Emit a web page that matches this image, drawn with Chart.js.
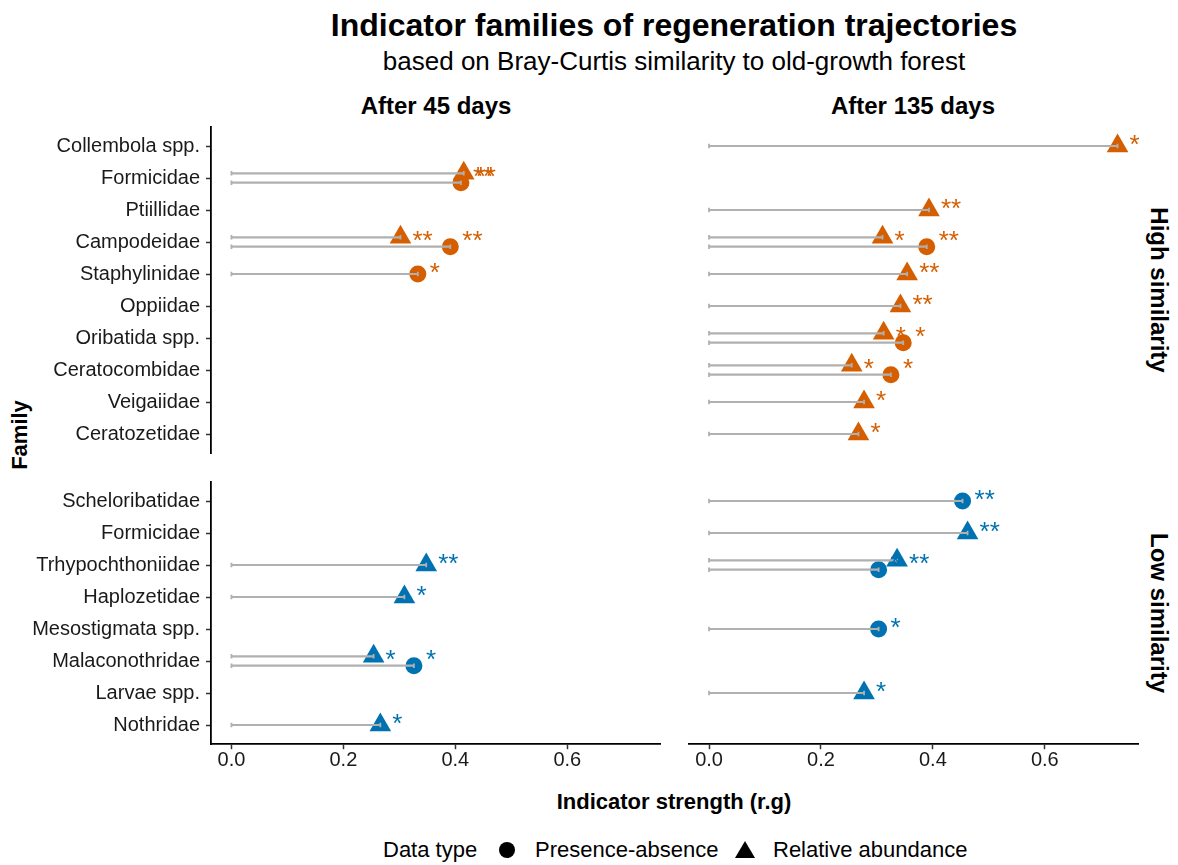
<!DOCTYPE html>
<html>
<head>
<meta charset="utf-8">
<script src="https://cdn.jsdelivr.net/npm/chart.js@4.4.1/dist/chart.umd.min.js"></script>
<style>
  body { margin: 0; background: #fff; font-family: "Liberation Sans", Arial, sans-serif; color: #000; }
  #wrap { position: relative; width: 1178px; height: 865px; overflow: hidden; }
  .lbl { position: absolute; white-space: nowrap; line-height: 1; transform: translate(-50%, -50%); }
  .panel { position: absolute; }
  .leg { position: absolute; white-space: nowrap; line-height: 1; font-size: 22px; transform: translateY(-50%); }
</style>
</head>
<body>
<div id="wrap">
  <div class="lbl" style="left:674px;top:25px;font-size:32px;font-weight:bold;">Indicator families of regeneration trajectories</div>
  <div class="lbl" style="left:674px;top:61px;font-size:26px;">based on Bray-Curtis similarity to old-growth forest</div>
  <div class="lbl" style="left:436px;top:106px;font-size:24px;font-weight:bold;">After 45 days</div>
  <div class="lbl" style="left:913px;top:106px;font-size:24px;font-weight:bold;">After 135 days</div>
  <div class="lbl" style="left:1159px;top:290px;font-size:24px;font-weight:bold;transform:translate(-50%,-50%) rotate(90deg);">High similarity</div>
  <div class="lbl" style="left:1159px;top:613px;font-size:24px;font-weight:bold;transform:translate(-50%,-50%) rotate(90deg);">Low similarity</div>
  <div class="lbl" style="left:20px;top:435px;font-size:22px;font-weight:bold;transform:translate(-50%,-50%) rotate(-90deg);">Family</div>
  <div class="lbl" style="left:674px;top:802px;font-size:22px;font-weight:bold;">Indicator strength (r.g)</div>

  <div class="leg" style="left:383px;top:850px;">Data type</div>
  <div style="position:absolute;left:499px;top:842px;width:16px;height:16px;border-radius:50%;background:#000;"></div>
  <div class="leg" style="left:535px;top:850px;">Presence-absence</div>
  <div style="position:absolute;left:735px;top:841px;width:0;height:0;border-left:10px solid transparent;border-right:10px solid transparent;border-bottom:17px solid #000;"></div>
  <div class="leg" style="left:773px;top:850px;">Relative abundance</div>

  <div class="panel" style="left:0;top:120px;"><canvas id="p1" width="680" height="340"></canvas></div>
  <div class="panel" style="left:680px;top:120px;"><canvas id="p2" width="480" height="340"></canvas></div>
  <div class="panel" style="left:0;top:475px;"><canvas id="p3" width="680" height="310"></canvas></div>
  <div class="panel" style="left:680px;top:475px;"><canvas id="p4" width="480" height="310"></canvas></div>
</div>

<script>
// tick labels / categories
const xTicks = [0, 0.2, 0.4, 0.6];
const highFamilies = ["Collembola spp.", "Formicidae", "Ptiillidae", "Campodeidae", "Staphylinidae",
                      "Oppiidae", "Oribatida spp.", "Ceratocombidae", "Veigaiidae", "Ceratozetidae"];
const lowFamilies = ["Scheloribatidae", "Formicidae", "Trhypochthoniidae", "Haplozetidae",
                     "Mesostigmata spp.", "Malaconothridae", "Larvae spp.", "Nothridae"];

// High similarity, after 45 days
const high45Presence = [null, 0.41, null, 0.391, 0.333, null, null, null, null, null];
const high45PresenceSig = [null, "**", null, "**", "*", null, null, null, null, null];
const high45Abundance = [null, 0.415, null, 0.302, null, null, null, null, null, null];
const high45AbundanceSig = [null, "**", null, "**", null, null, null, null, null, null];

// High similarity, after 135 days
const high135Presence = [null, null, null, 0.389, null, null, 0.347, 0.325, null, null];
const high135PresenceSig = [null, null, null, "**", null, null, "*", "*", null, null];
const high135Abundance = [0.73, null, 0.393, 0.31, 0.354, 0.342, 0.312, 0.255, 0.277, 0.267];
const high135AbundanceSig = ["*", null, "**", "*", "**", "**", "*", "*", "*", "*"];

// Low similarity, after 45 days
const low45Presence = [null, null, null, null, null, 0.326, null, null];
const low45PresenceSig = [null, null, null, null, null, "*", null, null];
const low45Abundance = [null, null, 0.348, 0.309, null, 0.254, null, 0.266];
const low45AbundanceSig = [null, null, "**", "*", null, "*", null, "*"];

// Low similarity, after 135 days
const low135Presence = [0.453, null, 0.303, null, 0.303, null, null, null];
const low135PresenceSig = ["**", null, "*", null, "*", null, null, null];
const low135Abundance = [null, 0.462, 0.336, null, null, null, 0.277, null];
const low135AbundanceSig = [null, "**", "**", null, null, null, "*", null];

const ORANGE = "#D55E00";
const BLUE = "#0072B2";
const STEM = "#b0b0b0";
const DODGE = 0.147;
const FONT = "Liberation Sans";

const starsPlugin = {
  id: "stars",
  afterDatasetsDraw(chart) {
    const ctx = chart.ctx;
    const ys = chart.scales.y;
    ctx.save();
    ctx.font = "26px " + FONT;
    ctx.textAlign = "left";
    ctx.textBaseline = "middle";
    chart.data.datasets.forEach((ds, di) => {
      if (!ds.isMarker) return;
      const meta = chart.getDatasetMeta(di);
      ctx.fillStyle = ds.backgroundColor;
      meta.data.forEach((el, i) => {
        const p = ds.data[i];
        if (!p.sig) return;
        ctx.fillText(p.sig, el.x + 12, ys.getPixelForValue(p.row));
      });
    });
    ctx.restore();
  }
};

function noPad(ax) {
  ax.paddingTop = 0; ax.paddingBottom = 0; ax.paddingLeft = 0; ax.paddingRight = 0;
}

function makePanel(id, families, pres, presSig, abund, abundSig, color, showY, showX, pad) {
  const circles = [], triangles = [];
  families.forEach((f, i) => {
    const both = pres[i] != null && abund[i] != null;
    if (abund[i] != null) triangles.push({ x: abund[i], y: both ? i - DODGE : i, row: i, sig: abundSig[i] });
    if (pres[i] != null) circles.push({ x: pres[i], y: both ? i + DODGE : i, row: i, sig: presSig[i] });
  });
  const stems = circles.concat(triangles).map(p => ({
    showLine: true,
    data: [{ x: 0, y: p.y }, { x: p.x, y: p.y }],
    borderColor: STEM,
    borderWidth: 2.2,
    pointStyle: "line",
    pointRotation: 90,
    pointRadius: 2.3,
    pointBorderColor: STEM,
    pointBorderWidth: 1.8,
    order: 0
  }));
  const datasets = [
    { label: "Presence-absence", data: circles, isMarker: true, pointStyle: "circle", pointRadius: 8.5,
      backgroundColor: color, borderWidth: 0, order: 2 },
    { label: "Relative abundance", data: triangles, isMarker: true, pointStyle: "triangle", pointRadius: 12.5,
      backgroundColor: color, borderWidth: 0, order: 1 }
  ].concat(stems);

  new Chart(document.getElementById(id), {
    type: "scatter",
    data: { datasets },
    plugins: [starsPlugin],
    options: {
      responsive: false,
      animation: false,
      events: [],
      layout: { autoPadding: false, padding: pad },
      plugins: { legend: { display: false }, tooltip: { enabled: false } },
      scales: {
        x: {
          type: "linear",
          display: showX,
          min: -0.0365,
          max: 0.7665,
          afterBuildTicks: ax => { ax.ticks = xTicks.map(v => ({ value: v })); },
          afterFit: ax => { ax.height = showX ? 40.8 : 0; noPad(ax); },
          ticks: { callback: v => v.toFixed(1), font: { family: FONT, size: 20 }, color: "#1a1a1a", padding: -1, maxRotation: 0 },
          grid: { drawOnChartArea: false, tickLength: 5, tickColor: "#333", tickWidth: 1.5 },
          border: { display: true, color: "#000", width: 1.8 }
        },
        y: {
          type: "linear",
          display: showY,
          reverse: true,
          min: -0.6,
          max: families.length - 1 + 0.6,
          afterBuildTicks: ax => { ax.ticks = families.map((f, i) => ({ value: i })); },
          afterFit: ax => { ax.width = showY ? 211 : 0; noPad(ax); },
          ticks: { callback: v => families[v], font: { family: FONT, size: 20 }, color: "#1a1a1a", padding: 6 },
          grid: { drawOnChartArea: false, tickLength: 5, tickColor: "#333", tickWidth: 1.5 },
          border: { display: true, color: "#000", width: 1.8 }
        }
      }
    }
  });
}

makePanel("p1", highFamilies, high45Presence, high45PresenceSig, high45Abundance, high45AbundanceSig,
  ORANGE, true, false, { top: 6.8, bottom: 6.8, left: 0, right: 19.5 });
makePanel("p2", highFamilies, high135Presence, high135PresenceSig, high135Abundance, high135AbundanceSig,
  ORANGE, false, false, { top: 6.8, bottom: 6.8, left: 8.6, right: 22 });
makePanel("p3", lowFamilies, low45Presence, low45PresenceSig, low45Abundance, low45AbundanceSig,
  BLUE, true, true, { top: 6.8, bottom: 0, left: 0, right: 19.5 });
makePanel("p4", lowFamilies, low135Presence, low135PresenceSig, low135Abundance, low135AbundanceSig,
  BLUE, false, true, { top: 6.8, bottom: 0, left: 8.6, right: 22 });
</script>
</body>
</html>
